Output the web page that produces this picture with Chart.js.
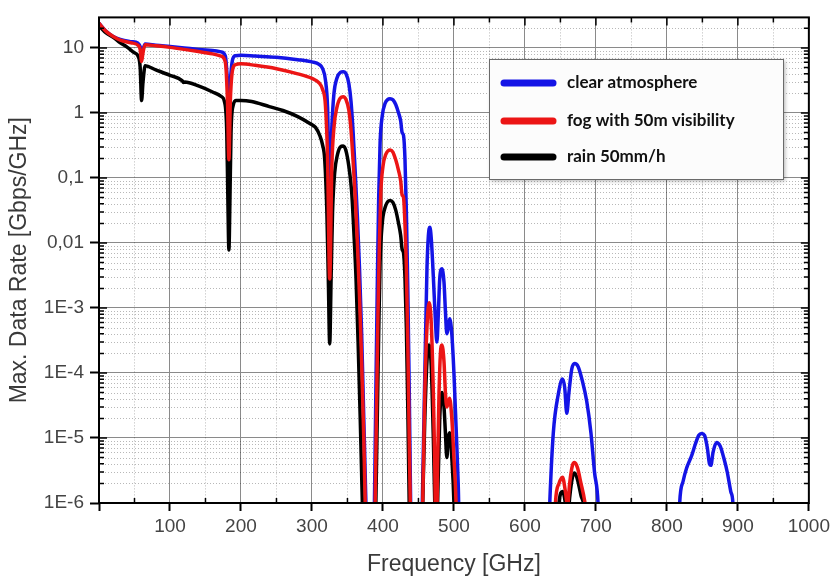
<!DOCTYPE html>
<html lang="en">
<head>
  <meta charset="UTF-8">
  <title>Max. Data Rate vs Frequency</title>
  <script src="https://cdn.jsdelivr.net/npm/chart.js"></script>
  <style>
    html, body { margin: 0; padding: 0; background: #fff; }
  </style>
</head>
<body>
  <canvas id="chart" width="834" height="576"></canvas>

  <script>
    // values; 1e-7 = below the 1E-6 floor (line leaves the frame)
    const freqClear = [0, 10, 20, 30, 45, 55, 58, 60, 62, 65, 80, 100, 120, 140, 160, 172, 178, 181, 183, 185, 188, 192, 200, 220, 250, 280, 300, 310, 315, 319, 322, 325, 328, 331, 335, 340, 344, 348, 352, 355, 358, 361, 364, 367, 370, 373, 376, 378,
      386, 388, 390, 392, 394, 396, 399, 403, 410, 414, 418, 422, 425, 427, 429, 431, 433, 435, 437, 439, 441,
      453, 456, 459, 462, 464, 466, 468, 471, 474, 476, 478, 480, 483, 486, 488, 490, 492, 494, 497, 500, 503, 506, 509,
      632, 635, 640, 647, 653, 656, 659, 662, 666, 670, 675, 681, 687, 693, 698, 703, 706,
      815, 818, 823, 828, 832, 835, 840, 845, 849, 853, 857, 860, 862, 865, 870, 875, 880, 885, 890, 893, 896, 1000];
    const rateClear = [24, 18, 15, 13.5, 12.5, 11.8, 10.5, 8, 9.5, 11.5, 11, 10.5, 10, 9.5, 9.1, 8.7, 7.5, 3, 1.0, 3, 6.5, 7.6, 7.7, 7.5, 7.2, 6.6, 6.1, 5.6, 4.8, 3.2, 1.2, 0.05, 0.6, 2.0, 3.4, 4.2, 4.3, 4.0, 2.8, 1.5, 0.5, 0.12, 0.025, 0.004, 4e-4, 2e-5, 1e-6, 1e-7,
      1e-7, 1e-6, 5e-5, 0.002, 0.05, 0.35, 0.9, 1.4, 1.66, 1.6, 1.35, 1.0, 0.75, 0.5, 0.45, 0.2, 0.03, 0.002, 6e-5, 1e-6, 1e-7,
      1e-7, 2e-6, 1e-4, 0.004, 0.013, 0.0174, 0.012, 0.003, 6e-4, 3e-4, 8e-4, 0.0028, 0.004, 0.0025, 9e-4, 4e-4, 5e-4, 6.8e-4, 4e-4, 1e-4, 1.5e-5, 2e-6, 1e-7,
      1e-7, 1e-6, 1.2e-5, 4.7e-5, 8.1e-5, 6e-5, 2.4e-5, 5e-5, 1.15e-4, 1.4e-4, 1.25e-4, 7.5e-5, 3.7e-5, 1.2e-5, 3e-6, 1e-6, 1e-7,
      1e-7, 1e-6, 2.2e-6, 3.5e-6, 4.5e-6, 5.4e-6, 8e-6, 1.1e-5, 1.17e-5, 1.1e-5, 7e-6, 4e-6, 3.8e-6, 6e-6, 8.5e-6, 7.5e-6, 5e-6, 3e-6, 1.5e-6, 1e-6, 1e-7, 1e-7];

    const freqFog = [0, 10, 20, 30, 45, 55, 58, 60, 62, 65, 80, 100, 120, 140, 160, 172, 178, 181, 183, 185, 188, 192, 200, 220, 250, 280, 300, 310, 315, 319, 322, 325, 328, 331, 335, 340, 344, 348, 352, 355, 358, 361, 364, 367, 370, 373, 375, 377,
      387, 389, 391, 393, 395, 397, 400, 404, 410, 414, 418, 422, 425, 427, 429, 431, 433, 435, 437, 438.5, 440,
      453, 456, 459, 462, 465, 468, 471, 473, 475, 477, 479, 481, 483, 486, 488, 490, 492, 494, 497, 500, 503, 505,
      640, 643, 648, 653, 657, 660, 663, 667, 670, 674, 679, 684, 688, 691, 1000];
    const rateFog = [24, 18, 15, 13.2, 12, 11, 9.5, 6.2, 8.5, 11.2, 10.8, 10.2, 9.5, 8.8, 8.1, 7.5, 6, 1.5, 0.19, 1.5, 4.5, 5.5, 5.7, 5.4, 4.8, 4.0, 3.4, 2.9, 2.3, 1.3, 0.2, 0.0028, 0.15, 0.6, 1.2, 1.7, 1.78, 1.6, 1.1, 0.55, 0.18, 0.05, 0.01, 0.0015, 1.5e-4, 1e-5, 1e-6, 1e-7,
      1e-7, 1e-6, 3e-5, 8e-4, 0.01, 0.06, 0.15, 0.23, 0.27, 0.25, 0.19, 0.13, 0.09, 0.055, 0.05, 0.02, 0.004, 3e-4, 1e-5, 1e-6, 1e-7,
      1e-7, 1e-6, 5e-5, 5e-4, 0.0012, 6e-4, 5e-5, 4e-6, 1e-7, 4e-6, 5e-5, 2e-4, 2.7e-4, 1.5e-4, 5e-5, 3e-5, 3.5e-5, 4.1e-5, 2e-5, 5e-6, 1e-6, 1e-7,
      1e-7, 1e-6, 2e-6, 2.5e-6, 1.5e-6, 9e-7, 2e-6, 3.8e-6, 4.2e-6, 3.5e-6, 2e-6, 1.1e-6, 5e-7, 1e-7, 1e-7];

    const freqRain = [0, 10, 20, 30, 40, 50, 55, 58, 60, 62, 65, 80, 100, 117, 119, 121, 140, 160, 172, 177, 180, 181.5, 183, 184.5, 186, 189, 193, 200, 215, 240, 259, 280, 297, 305, 311, 315, 318, 321, 323, 325, 327, 329, 332, 336, 340, 344, 348, 352, 356, 359, 362, 365, 368, 371, 373,
      388, 390, 392, 394, 396, 399, 403, 410, 414, 418, 422, 425, 427, 429, 431, 433, 435, 437, 439,
      453, 456, 459, 462, 465, 468, 471, 473, 475, 477, 480, 483, 486, 488, 490, 492, 494, 497, 500, 502,
      645, 648, 653, 657, 660, 663, 667, 670, 674, 679, 684, 687, 1000];
    const rateRain = [22, 17, 14.6, 12, 10.2, 8.4, 7.5, 5, 1.55, 3, 5.3, 4.6, 3.8, 3.15, 2.95, 3.0, 2.6, 2.1, 1.8, 1.45, 0.5, 0.05, 0.0078, 0.05, 0.5, 1.3, 1.55, 1.56, 1.5, 1.25, 1.09, 0.88, 0.69, 0.6, 0.45, 0.32, 0.19, 0.03, 0.003, 2.8e-4, 0.003, 0.03, 0.12, 0.23, 0.3, 0.31, 0.26, 0.15, 0.06, 0.015, 0.003, 3e-4, 2e-5, 1e-6, 1e-7,
      1e-7, 1e-6, 2e-5, 4e-4, 0.005, 0.02, 0.035, 0.045, 0.042, 0.032, 0.02, 0.013, 0.008, 0.007, 0.003, 5e-4, 3e-5, 1e-6, 1e-7,
      1e-7, 1e-6, 2e-5, 1.5e-4, 2.7e-4, 1.3e-4, 1e-5, 1e-6, 1e-7, 1e-6, 2e-5, 5e-5, 3e-5, 1.2e-5, 5e-6, 1e-5, 1.2e-5, 5e-6, 1e-6, 1e-7,
      1e-7, 1e-6, 1.5e-6, 1e-6, 5e-7, 1.2e-6, 2.5e-6, 2.9e-6, 2.3e-6, 1.3e-6, 7e-7, 1e-7, 1e-7];

    const seriesLabels = ["clear atmosphere", "fog with 50m visibility", "rain 50mm/h"];
    const seriesColors = ["#1414e6", "#ec1515", "#000000"];

    const xTickValues = [0, 50, 100, 150, 200, 250, 300, 350, 400, 450, 500, 550, 600, 650, 700, 750, 800, 850, 900, 950, 1000];
    const xTickLabels = [100, 200, 300, 400, 500, 600, 700, 800, 900, 1000];
    const yDecades = [1e-6, 1e-5, 1e-4, 1e-3, 0.01, 0.1, 1, 10];
    const yTickLabels = ["1E-6", "1E-5", "1E-4", "1E-3", "0,01", "0,1", "1", "10"];
    const yMin = 1e-6, yMax = 29.5;

    // all 1..9 x 10^n positions for the log axis
    const yTickValues = [];
    yDecades.forEach(d => {
      for (let m = 1; m <= 9; m++) {
        const v = +(m * d).toPrecision(3);
        if (v <= yMax) yTickValues.push(v);
      }
    });

    function isDecade(v) {
      const l = Math.log10(v);
      return Math.abs(l - Math.round(l)) < 1e-6;
    }
    function isMajorX(v) { return v % 100 === 0; }

    function toPoints(fs, vs) { return fs.map((f, i) => ({ x: f, y: vs[i] })); }

    const minorGrid = {
      id: "minorGrid",
      beforeDatasetsDraw(chart) {
        const { ctx, chartArea: a, scales } = chart;
        ctx.save();
        ctx.strokeStyle = "rgba(0,0,0,0.28)";
        ctx.lineWidth = 1;
        ctx.setLineDash([1, 2]);
        yTickValues.forEach(v => {
          if (isDecade(v)) return;
          const y = Math.round(scales.y.getPixelForValue(v)) + 0.5;
          ctx.beginPath(); ctx.moveTo(a.left, y); ctx.lineTo(a.right, y); ctx.stroke();
        });
        xTickValues.forEach(v => {
          if (isMajorX(v)) return;
          const x = Math.round(scales.x.getPixelForValue(v)) + 0.5;
          ctx.beginPath(); ctx.moveTo(x, a.top); ctx.lineTo(x, a.bottom); ctx.stroke();
        });
        ctx.restore();
      }
    };

    const frame = {
      id: "frame",
      afterDraw(chart) {
        const { ctx, chartArea: a, scales } = chart;
        ctx.save();
        ctx.strokeStyle = "#000";
        ctx.lineWidth = 2;
        ctx.strokeRect(a.left, a.top, a.right - a.left, a.bottom - a.top);
        ctx.lineWidth = 1.5;
        ctx.beginPath();
        yTickValues.forEach(v => {
          const y = scales.y.getPixelForValue(v);
          const len = isDecade(v) ? 8 : 5;
          ctx.moveTo(a.left, y); ctx.lineTo(a.left + len, y);
          ctx.moveTo(a.right, y); ctx.lineTo(a.right - len, y);
        });
        xTickValues.forEach(v => {
          const x = scales.x.getPixelForValue(v);
          const len = isMajorX(v) ? 8 : 5;
          ctx.moveTo(x, a.top); ctx.lineTo(x, a.top + len);
          if (!isMajorX(v)) { ctx.moveTo(x, a.bottom); ctx.lineTo(x, a.bottom - len); }
        });
        ctx.stroke();
        ctx.restore();
      }
    };

    const boxLegend = {
      id: "boxLegend",
      afterDraw(chart) {
        const ctx = chart.ctx;
        const bx = 489, by = 59, bw = 294, bh = 120;
        ctx.save();
        ctx.shadowColor = "rgba(0,0,0,0.3)";
        ctx.shadowBlur = 4;
        ctx.shadowOffsetX = 2;
        ctx.shadowOffsetY = 2;
        ctx.fillStyle = "#fcfcfc";
        ctx.fillRect(bx, by, bw, bh);
        ctx.shadowColor = "transparent";
        ctx.strokeStyle = "#6a6a6a";
        ctx.lineWidth = 1;
        ctx.strokeRect(bx + 0.5, by + 0.5, bw, bh);
        const rows = [83, 121, 157];
        ctx.font = "bold 17px 'Lato', 'Liberation Sans', sans-serif";
        ctx.textBaseline = "middle";
        chart.data.datasets.forEach((ds, i) => {
          const y = rows[i];
          ctx.strokeStyle = ds.borderColor;
          ctx.lineWidth = 7;
          ctx.lineCap = "round";
          ctx.beginPath(); ctx.moveTo(504, y); ctx.lineTo(553, y); ctx.stroke();
          ctx.fillStyle = "#111";
          ctx.fillText(ds.label, 567, y);
        });
        ctx.restore();
      }
    };

    const lineStyle = {
      pointRadius: 0,
      borderWidth: 3.5,
      fill: false,
      tension: 0.4,
      cubicInterpolationMode: "monotone"
    };

    const ctx = document.getElementById("chart").getContext("2d");
    const chart = new Chart(ctx, {
      type: "line",
      data: {
        datasets: [
          Object.assign({ label: seriesLabels[0], data: toPoints(freqClear, rateClear), borderColor: seriesColors[0], order: 3 }, lineStyle),
          Object.assign({ label: seriesLabels[1], data: toPoints(freqFog, rateFog), borderColor: seriesColors[1], order: 1 }, lineStyle),
          Object.assign({ label: seriesLabels[2], data: toPoints(freqRain, rateRain), borderColor: seriesColors[2], order: 2 }, lineStyle)
        ]
      },
      options: {
        responsive: false,
        animation: false,
        devicePixelRatio: 1,
        layout: { padding: { top: 13, right: 24, left: 0, bottom: 0 } },
        plugins: {
          legend: { display: false },
          tooltip: { enabled: false }
        },
        scales: {
          x: {
            type: "linear",
            min: 0,
            max: 1000,
            afterBuildTicks: s => { s.ticks = xTickValues.map(v => ({ value: v })); },
            afterFit: s => { s.height = 73; },
            ticks: {
              autoSkip: false,
              maxRotation: 0,
              padding: 4,
              color: "#444",
              font: { family: "'Liberation Sans', Arial, sans-serif", size: 19 },
              callback: v => xTickLabels.includes(v) ? String(v) : ""
            },
            grid: {
              color: c => (c.tick && isMajorX(c.tick.value)) ? "#8a8a8a" : "rgba(0,0,0,0)",
              tickColor: c => (c.tick && isMajorX(c.tick.value)) ? "#000" : "rgba(0,0,0,0)",
              tickLength: 8,
              tickWidth: 2
            },
            border: { display: false },
            title: {
              display: true,
              text: "Frequency [GHz]",
              color: "#3a3a3a",
              font: { family: "'Liberation Sans', Arial, sans-serif", size: 23, lineHeight: 1 },
              padding: { top: 0, bottom: 0 }
            }
          },
          y: {
            type: "logarithmic",
            min: yMin,
            max: yMax,
            afterBuildTicks: s => { s.ticks = yTickValues.map(v => ({ value: v })); },
            afterFit: s => { s.width = 99; },
            ticks: {
              autoSkip: false,
              padding: 6,
              color: "#444",
              font: { family: "'Liberation Sans', Arial, sans-serif", size: 19 },
              callback: v => {
                const i = yDecades.findIndex(d => Math.abs(Math.log10(d) - Math.log10(v)) < 1e-6);
                return i >= 0 ? yTickLabels[i] : "";
              }
            },
            grid: {
              color: c => (c.tick && isDecade(c.tick.value)) ? "#8a8a8a" : "rgba(0,0,0,0)",
              tickColor: c => (c.tick && isDecade(c.tick.value)) ? "#000" : "rgba(0,0,0,0)",
              tickLength: 9,
              tickWidth: 2
            },
            border: { display: false },
            title: {
              display: true,
              text: "Max. Data Rate [Gbps/GHz]",
              color: "#3a3a3a",
              font: { family: "'Liberation Sans', Arial, sans-serif", size: 23, lineHeight: 1 },
              padding: { top: 8, bottom: 0 }
            }
          }
        }
      },
      plugins: [minorGrid, frame, boxLegend]
    });
  </script>
</body>
</html>
